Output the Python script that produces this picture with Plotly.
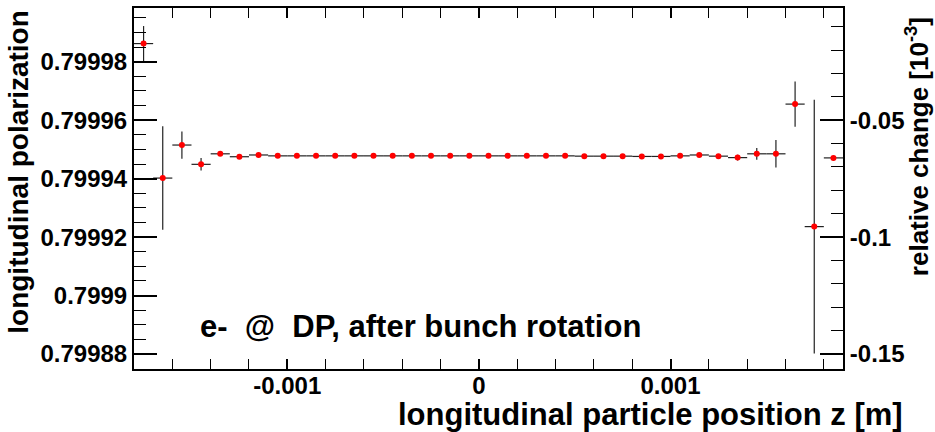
import plotly.graph_objects as go

# Bin centres of the longitudinal position histogram [m]
z_centers = [
    -0.00175, -0.00165, -0.00155, -0.00145, -0.00135, -0.00125, -0.00115, -0.00105,
    -0.00095, -0.00085, -0.00075, -0.00065, -0.00055, -0.00045, -0.00035, -0.00025,
    -0.00015, -0.00005, 0.00005, 0.00015, 0.00025, 0.00035, 0.00045, 0.00055,
    0.00065, 0.00075, 0.00085, 0.00095, 0.00105, 0.00115, 0.00125, 0.00135,
    0.00145, 0.00155, 0.00165, 0.00175, 0.00185,
]
z_half_width = [0.00005] * len(z_centers)

# Mean longitudinal polarization per bin and its statistical error
polarization = [
    0.7999862, 0.7999402, 0.7999515, 0.7999449, 0.7999485, 0.7999475, 0.7999481, 0.7999478,
    0.7999478, 0.7999478, 0.7999478, 0.7999478, 0.7999478, 0.7999478, 0.7999478, 0.7999478,
    0.7999478, 0.7999478, 0.7999478, 0.7999478, 0.7999478, 0.7999478, 0.7999478, 0.7999477,
    0.7999477, 0.7999477, 0.7999476, 0.7999476, 0.7999478, 0.7999481, 0.7999477, 0.7999472,
    0.7999485, 0.7999485, 0.7999655, 0.7999236, 0.7999471,
]
polarization_err = [
    6.0e-6, 1.77e-5, 4.65e-6, 2.15e-6, 5e-7, 3e-7, 3e-7, 2e-7,
    1e-7, 1e-7, 1e-7, 1e-7, 1e-7, 1e-7, 1e-7, 1e-7,
    1e-7, 1e-7, 1e-7, 1e-7, 1e-7, 1e-7, 1e-7, 1e-7,
    1e-7, 1e-7, 1e-7, 1e-7, 1e-7, 2e-7, 3e-7, 1e-6,
    2e-6, 4.7e-6, 7.75e-6, 4.34e-5, 0.0,
]

P_REF = 0.8  # initial polarization, reference for the relative change

x_tickvals = [-0.001, 0.0, 0.001]
x_ticktext = ["-0.001", "0", "0.001"]
y_tickvals = [0.79988, 0.7999, 0.79992, 0.79994, 0.79996, 0.79998]
y_ticktext = ["0.79988", "0.7999", "0.79992", "0.79994", "0.79996", "0.79998"]
y2_tickvals = [-0.15, -0.1, -0.05]
y2_ticktext = ["-0.15", "-0.1", "-0.05"]

x_range = [-0.0018, 0.0019]
y_range = [0.7998749, 0.79999837]
# relative change in units of 1e-3 with respect to P_REF
y2_range = [(v / P_REF - 1.0) * 1e3 for v in y_range]
rel_change = [(v / P_REF - 1.0) * 1e3 for v in polarization]

FONT = "Liberation Sans, Arial, Helvetica, sans-serif"
bold = dict(family=FONT, size=24, color="black", weight="bold")

fig = go.Figure()
fig.add_trace(go.Scatter(
    x=z_centers, y=polarization, mode="markers",
    marker=dict(symbol="circle", size=6, color="#ff0000"),
    error_x=dict(type="data", array=z_half_width, color="#222222", thickness=1.2, width=0),
    error_y=dict(type="data", array=polarization_err, color="#222222", thickness=1.2, width=0),
    hoverinfo="skip", showlegend=False,
))
# same points expressed as relative change, only to carry the right-hand axis
fig.add_trace(go.Scatter(
    x=z_centers, y=rel_change, yaxis="y2", mode="markers",
    marker=dict(size=6, color="rgba(0,0,0,0)"),
    hoverinfo="skip", showlegend=False,
))

fig.update_layout(
    width=935, height=432,
    margin=dict(l=134, r=92, t=6, b=63),
    paper_bgcolor="white", plot_bgcolor="white",
    xaxis=dict(
        range=x_range, showgrid=False, zeroline=False,
        showline=True, linecolor="black", linewidth=2, mirror="allticks",
        ticks="inside", ticklen=10, tickwidth=1.5, tickcolor="black",
        tickvals=x_tickvals, ticktext=x_ticktext, tickfont=bold,
        ticklabelstandoff=-6,
        minor=dict(dtick=0.0002, tick0=0, ticks="inside", ticklen=5, tickwidth=1, tickcolor="black"),
    ),
    yaxis=dict(
        range=y_range, showgrid=False, zeroline=False,
        showline=True, linecolor="black", linewidth=2,
        ticks="inside", ticklen=23, tickwidth=1.5, tickcolor="black",
        tickvals=y_tickvals, ticktext=y_ticktext, tickfont=bold,
        minor=dict(dtick=0.000005, tick0=0.79988, ticks="inside", ticklen=12, tickwidth=1, tickcolor="black"),
    ),
    yaxis2=dict(
        range=y2_range, overlaying="y", side="right", anchor="x",
        showgrid=False, zeroline=False,
        showline=True, linecolor="black", linewidth=2,
        ticks="inside", ticklen=23, tickwidth=1.5, tickcolor="black",
        tickvals=y2_tickvals, ticktext=y2_ticktext, tickfont=bold,
        minor=dict(dtick=0.01, tick0=0, ticks="inside", ticklen=12, tickwidth=1, tickcolor="black"),
    ),
    annotations=[
        dict(text="longitudinal particle position z [m]", xref="paper", yref="paper",
             x=1.087, y=-0.127, xanchor="right", yanchor="middle", showarrow=False,
             font=dict(family=FONT, size=31, color="black", weight="bold")),
        dict(text="longitudinal polarization", xref="paper", yref="paper",
             x=-0.164, y=1.0, xanchor="center", yanchor="top", textangle=-90, showarrow=False,
             font=dict(family=FONT, size=28, color="black", weight="bold")),
        dict(text="relative change [10<sup>-3</sup>]", xref="paper", yref="paper",
             x=1.105, y=0.98, xanchor="center", yanchor="top", textangle=-90, showarrow=False,
             font=dict(family=FONT, size=26, color="black", weight="bold")),
        dict(text="e-  @  DP, after bunch rotation", xref="paper", yref="paper",
             x=0.09, y=0.118, xanchor="left", yanchor="middle", showarrow=False,
             font=dict(family=FONT, size=31, color="black", weight="bold")),
    ],
)

fig.write_html("out.html")
